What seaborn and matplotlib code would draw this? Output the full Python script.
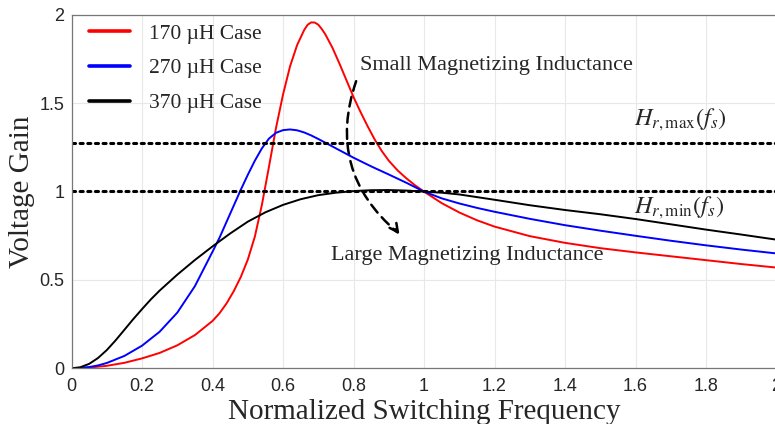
import numpy as np
import pandas as pd
import matplotlib
matplotlib.use('Agg')
import matplotlib.pyplot as plt
import seaborn as sns
from matplotlib.patches import FancyArrowPatch

# data
x_170 = [0, 0.025, 0.05, 0.1, 0.15, 0.2, 0.25, 0.3, 0.35, 0.4, 0.42, 0.44, 0.46, 0.48,
         0.5, 0.52, 0.54, 0.56, 0.58, 0.6, 0.62, 0.64, 0.66, 0.67, 0.68, 0.69, 0.7,
         0.71, 0.72, 0.74, 0.76, 0.78, 0.8, 0.82, 0.84, 0.86, 0.88, 0.9, 0.925, 0.95,
         0.975, 1.0, 1.05, 1.1, 1.15, 1.2, 1.3, 1.4, 1.5, 1.6, 1.7, 1.8, 1.9, 2.0]
g_170 = [0, 0.001, 0.004, 0.014, 0.031, 0.056, 0.087, 0.13, 0.188, 0.268, 0.312, 0.368,
         0.436, 0.516, 0.615, 0.745, 0.925, 1.14, 1.36, 1.55, 1.71, 1.83, 1.915, 1.945,
         1.958, 1.957, 1.945, 1.92, 1.89, 1.815, 1.725, 1.63, 1.535, 1.45, 1.37,
         1.295, 1.23, 1.175, 1.12, 1.075, 1.035, 1.0, 0.935, 0.882, 0.838, 0.802,
         0.748, 0.71, 0.68, 0.656, 0.634, 0.612, 0.59, 0.57]

x_270 = [0, 0.025, 0.05, 0.075, 0.1, 0.15, 0.2, 0.25, 0.3, 0.35, 0.4, 0.42, 0.44,
         0.46, 0.48, 0.5, 0.52, 0.54, 0.56, 0.58, 0.6, 0.62, 0.64, 0.66, 0.68, 0.7,
         0.72, 0.75, 0.8, 0.85, 0.9, 0.95, 1.0, 1.05, 1.1, 1.15, 1.2, 1.3, 1.4, 1.5,
         1.6, 1.7, 1.8, 1.9, 2.0]
g_270 = [0, 0.002, 0.007, 0.016, 0.03, 0.07, 0.128, 0.207, 0.315, 0.465, 0.66, 0.74,
         0.83, 0.92, 1.01, 1.095, 1.175, 1.245, 1.3, 1.333, 1.348, 1.352, 1.347,
         1.335, 1.318, 1.298, 1.277, 1.245, 1.192, 1.143, 1.097, 1.05, 1.0, 0.962,
         0.933, 0.908, 0.886, 0.846, 0.81, 0.779, 0.75, 0.722, 0.696, 0.672, 0.65]

x_370 = [0, 0.025, 0.05, 0.075, 0.1, 0.125, 0.15, 0.175, 0.2, 0.225, 0.25, 0.275,
         0.3, 0.35, 0.4, 0.45, 0.5, 0.55, 0.6, 0.65, 0.7, 0.75, 0.8, 0.85, 0.9, 0.95,
         1.0, 1.05, 1.1, 1.2, 1.3, 1.4, 1.5, 1.6, 1.7, 1.8, 1.9, 2.0]
g_370 = [0, 0.006, 0.025, 0.058, 0.103, 0.158, 0.218, 0.278, 0.335, 0.39, 0.44, 0.485,
         0.53, 0.613, 0.69, 0.763, 0.83, 0.883, 0.925, 0.957, 0.98, 0.994, 1.003,
         1.008, 1.009, 1.006, 1.0, 0.994, 0.984, 0.954, 0.923, 0.896, 0.872, 0.845,
         0.815, 0.785, 0.757, 0.728]

cases = ['170 µH Case', '270 µH Case', '370 µH Case']
colors = ['#ff0000', '#0000ff', '#000000']
h_max = 1.275
h_min = 1.005

df = pd.concat([
    pd.DataFrame({'f': x_170, 'gain': g_170, 'case': cases[0]}),
    pd.DataFrame({'f': x_270, 'gain': g_270, 'case': cases[1]}),
    pd.DataFrame({'f': x_370, 'gain': g_370, 'case': cases[2]}),
])

sns.set_style('white')
plt.rcParams['font.family'] = ['Liberation Serif', 'DejaVu Serif']
plt.rcParams['mathtext.fontset'] = 'stix'
plt.rcParams['lines.solid_joinstyle'] = 'round'

fig = plt.figure(figsize=(7.75, 4.24), dpi=100)
ax = fig.add_axes([0.0923, 0.1314, 0.9097, 0.8333])

# grid like matlab
ax.grid(True, color='#e8e8e8', linewidth=0.8)
ax.set_axisbelow(True)

sns.lineplot(data=df, x='f', y='gain', hue='case', palette=colors, estimator=None,
             sort=False, linewidth=1.4, ax=ax)

ax.axhline(h_max, color='black', linestyle=(0, (1, 1.5)), linewidth=2.2, dash_capstyle='round')
ax.axhline(h_min, color='black', linestyle=(0, (1, 1.5)), linewidth=2.2, dash_capstyle='round')

ax.set_xlim(0, 2)
ax.set_ylim(0, 2)
ax.set_xticks(np.arange(0, 2.01, 0.2))
ax.set_xticklabels(['0', '0.2', '0.4', '0.6', '0.8', '1', '1.2', '1.4', '1.6', '1.8', '2'])
ax.set_yticks([0, 0.5, 1, 1.5, 2])
ax.set_yticklabels(['0', '0.5', '1', '1.5', '2'])
ax.tick_params(direction='in', length=4, width=0.8, color='#555555', labelsize=13,
               labelcolor='#262626')
ax.tick_params(axis='x', pad=7)
ax.tick_params(axis='y', pad=5)
for lab in ax.get_xticklabels() + ax.get_yticklabels():
    lab.set_family('Liberation Sans')
for s in ax.spines.values():
    s.set_color('#777777')
    s.set_linewidth(0.9)

ax.set_xlabel('Normalized Switching Frequency', fontsize=21, labelpad=3)
ax.set_ylabel('Voltage Gain', fontsize=21, labelpad=3)

leg = ax.legend(loc='upper left', frameon=False, fontsize=15.5, handlelength=1.9,
                handletextpad=0.9, labelspacing=0.68, borderaxespad=0.0,
                bbox_to_anchor=(0.012, 1.0))
for line in leg.get_lines():
    line.set_linewidth(2.6)

ax.text(0.818, 1.716, 'Small Magnetizing Inductance', fontsize=16, va='center', ha='left')
ax.text(0.736, 0.641, 'Large Magnetizing Inductance', fontsize=16, va='center', ha='left')
ax.text(1.595, 1.405, r'$H_{r,\mathrm{max}}(f_s)$', fontsize=17.5, va='center', ha='left')
ax.text(1.595, 0.907, r'$H_{r,\mathrm{min}}(f_s)$', fontsize=17.5, va='center', ha='left')

# curved dashed arrow
arc = FancyArrowPatch((0.81, 1.64), (0.93, 0.76), connectionstyle='arc3,rad=0.35',
                      arrowstyle='-', linestyle=(0, (4, 2.5)), linewidth=1.8, color='black')
ax.add_patch(arc)
ax.annotate('', xy=(0.935, 0.745), xytext=(0.915, 0.80),
            arrowprops=dict(arrowstyle='->,head_length=0.6,head_width=0.3', color='black',
                            linewidth=1.8))

fig.savefig('out.png', dpi=100)
